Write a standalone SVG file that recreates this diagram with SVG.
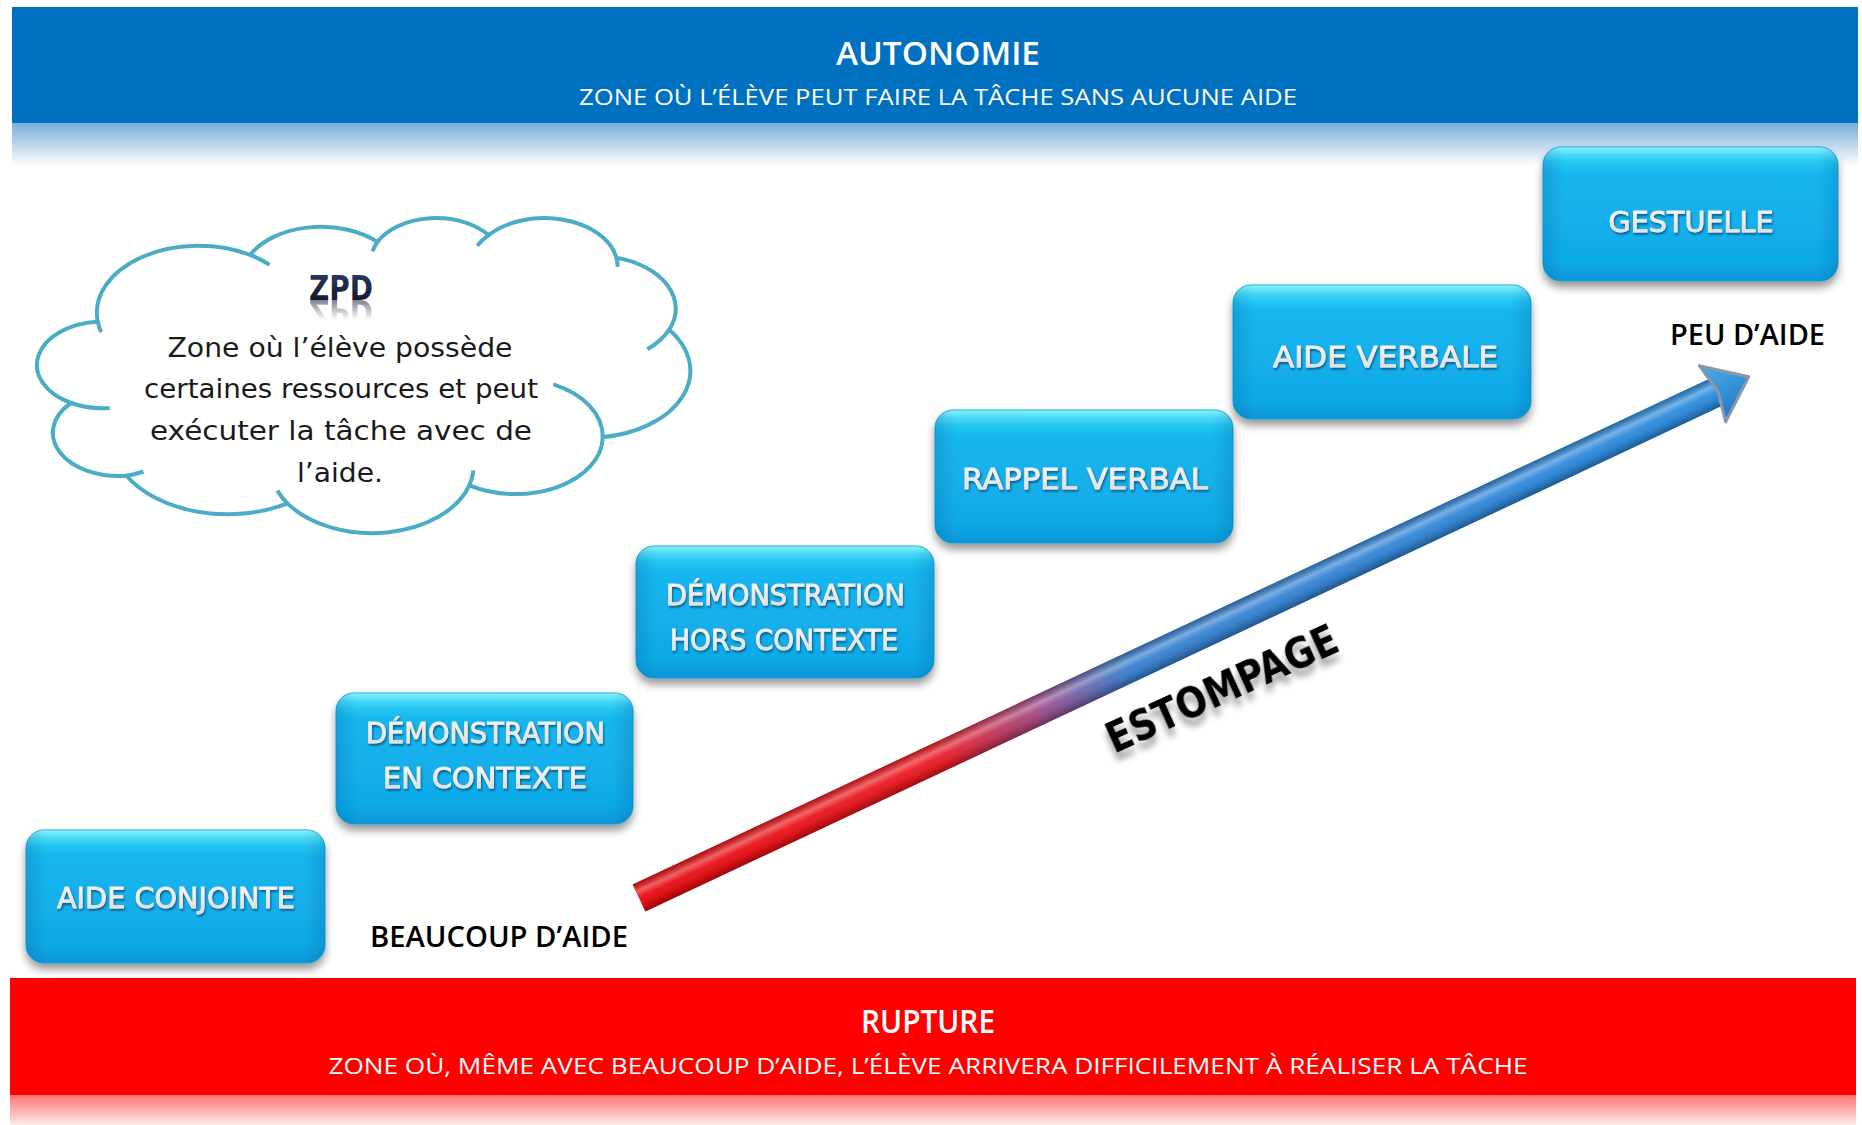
<svg xmlns="http://www.w3.org/2000/svg" xmlns:xlink="http://www.w3.org/1999/xlink" width="1862" height="1125" viewBox="0 0 1862 1125">
<defs>
<style>
.band-title{font-family:"Open Sans","Liberation Sans",sans-serif;font-weight:600;font-size:32px;fill:#ffffff;text-anchor:middle}
.band-sub{font-family:"Open Sans","Liberation Sans",sans-serif;font-size:22px;fill:#ffffff;text-anchor:middle}
.box-base{fill:url(#boxBase);stroke:#139ad6;stroke-width:1;filter:url(#boxShadow)}
.box-side{fill:url(#boxSide)}
.box-hl{fill:url(#boxHl)}
.box-label{font-family:"DejaVu Sans","Liberation Sans",sans-serif;font-size:29px;fill:url(#txtGrad);stroke:#eeeeee;stroke-width:0.8;text-anchor:middle;filter:url(#txtShadow)}
.box-label2{font-size:28px}
.cloud-shape{fill:#ffffff;stroke:#4bacc6;stroke-width:4}
.cloud-inner{fill:none;stroke:#4bacc6;stroke-width:4}
.cloud-text{font-family:"DejaVu Sans","Liberation Sans",sans-serif;font-size:26px;fill:#1a1a1a;text-anchor:middle}
.zpd{font-family:"DejaVu Sans","Liberation Sans",sans-serif;font-weight:bold;font-size:33px;fill:url(#zpdGrad);text-anchor:middle}
.side-label{font-family:"Open Sans","Liberation Sans",sans-serif;font-weight:600;font-size:28px;fill:#000000}
.estompage{font-family:"DejaVu Sans","Liberation Sans",sans-serif;font-weight:bold;font-size:42px;fill:#000000;text-anchor:middle;filter:url(#estShadow)}
</style>
<linearGradient id="topRefl" x1="0" y1="0" x2="0" y2="1">
<stop offset="0" stop-color="#76acd9"/>
<stop offset="1" stop-color="#ffffff"/>
</linearGradient>
<linearGradient id="botRefl" x1="0" y1="0" x2="0" y2="1">
<stop offset="0" stop-color="#ff7070"/>
<stop offset="1" stop-color="#ffeaea"/>
</linearGradient>
<linearGradient id="boxBase" x1="0" y1="0" x2="0" y2="1">
<stop offset="0" stop-color="#5cf2fb"/>
<stop offset="0.06" stop-color="#2fd2f5"/>
<stop offset="0.2" stop-color="#16b6ef"/>
<stop offset="0.85" stop-color="#10aae8"/>
<stop offset="1" stop-color="#0c96d6"/>
</linearGradient>
<linearGradient id="boxSide" x1="0" y1="0" x2="1" y2="0">
<stop offset="0" stop-color="#00558f" stop-opacity="0.22"/>
<stop offset="0.07" stop-color="#00558f" stop-opacity="0"/>
<stop offset="0.93" stop-color="#00558f" stop-opacity="0"/>
<stop offset="1" stop-color="#00558f" stop-opacity="0.22"/>
</linearGradient>
<linearGradient id="boxHl" x1="0" y1="0" x2="0" y2="1">
<stop offset="0" stop-color="#ffffff" stop-opacity="0.25"/>
<stop offset="0.12" stop-color="#ffffff" stop-opacity="0"/>
<stop offset="1" stop-color="#ffffff" stop-opacity="0"/>
</linearGradient>
<linearGradient id="txtGrad" x1="0" y1="0" x2="0" y2="1">
<stop offset="0" stop-color="#ffffff"/>
<stop offset="1" stop-color="#d4d4d4"/>
</linearGradient>
<linearGradient id="zpdGrad" x1="0" y1="0" x2="0" y2="1">
<stop offset="0" stop-color="#2b3d66"/>
<stop offset="1" stop-color="#0d1226"/>
</linearGradient>
<linearGradient id="zpdFade" gradientUnits="userSpaceOnUse" x1="0" y1="300" x2="0" y2="320">
<stop offset="0" stop-color="#ffffff" stop-opacity="0.55"/>
<stop offset="1" stop-color="#ffffff" stop-opacity="0"/>
</linearGradient>
<mask id="zpdMask" maskUnits="userSpaceOnUse" x="280" y="296" width="120" height="30">
<rect x="280" y="296" width="120" height="30" fill="url(#zpdFade)"/>
</mask>
<linearGradient id="shaftGrad" gradientUnits="userSpaceOnUse" x1="0" y1="0" x2="1226" y2="0">
<stop offset="0" stop-color="#e80c10"/>
<stop offset="0.27" stop-color="#ec1c24"/>
<stop offset="0.36" stop-color="#a04c86"/>
<stop offset="0.44" stop-color="#3a80d0"/>
<stop offset="1" stop-color="#2a8ee0"/>
</linearGradient>
<linearGradient id="tubeGrad" x1="0" y1="0" x2="0" y2="1">
<stop offset="0" stop-color="#000000" stop-opacity="0.25"/>
<stop offset="0.28" stop-color="#ffffff" stop-opacity="0.35"/>
<stop offset="0.5" stop-color="#ffffff" stop-opacity="0.05"/>
<stop offset="0.8" stop-color="#000000" stop-opacity="0.12"/>
<stop offset="1" stop-color="#000000" stop-opacity="0.35"/>
</linearGradient>
<linearGradient id="headGrad" x1="0" y1="0" x2="0" y2="1">
<stop offset="0" stop-color="#4aaeea"/>
<stop offset="1" stop-color="#1f78c8"/>
</linearGradient>
<filter id="boxShadow" x="-10%" y="-10%" width="120%" height="130%">
<feDropShadow dx="0" dy="6" stdDeviation="4" flood-color="#000000" flood-opacity="0.4"/>
</filter>
<filter id="txtShadow" x="-5%" y="-20%" width="110%" height="150%">
<feDropShadow dx="1" dy="2" stdDeviation="1" flood-color="#03426a" flood-opacity="0.75"/>
</filter>
<filter id="estShadow" x="-10%" y="-30%" width="120%" height="180%">
<feDropShadow dx="-3" dy="8" stdDeviation="3" flood-color="#000000" flood-opacity="0.35"/>
</filter>
</defs>

<rect width="1862" height="1125" fill="#ffffff"/>

<g id="band-autonomie">
<rect x="12" y="122" width="1846" height="44" fill="url(#topRefl)"/>
<rect x="12" y="7" width="1846" height="116" fill="#0070c0"/>
<text class="band-title" x="938" y="65" textLength="204" lengthAdjust="spacingAndGlyphs">AUTONOMIE</text>
<text class="band-sub" x="938" y="105" textLength="718" lengthAdjust="spacingAndGlyphs">ZONE OÙ L’ÉLÈVE PEUT FAIRE LA TÂCHE SANS AUCUNE AIDE</text>
</g>

<g id="band-rupture">
<rect x="10" y="1094" width="1846" height="31" fill="url(#botRefl)"/>
<rect x="10" y="978" width="1846" height="117" fill="#ff0000"/>
<text class="band-title" x="928" y="1033" textLength="134" lengthAdjust="spacingAndGlyphs">RUPTURE</text>
<text class="band-sub" x="928" y="1074" textLength="1199" lengthAdjust="spacingAndGlyphs">ZONE OÙ, MÊME AVEC BEAUCOUP D’AIDE, L’ÉLÈVE ARRIVERA DIFFICILEMENT À RÉALISER LA TÂCHE</text>
</g>

<g id="cloud-zpd">
<path class="cloud-shape" d="M97.8 321.8 A101.8 67 0 0 1 250 254.9 A80.4 53 0 0 1 377.4 242 A65.8 43.3 0 0 1 488.6 235.1 A73.2 48.1 0 0 1 616.4 257.6 A80.4 53 0 0 1 669.2 329.7 A102.1 67.2 0 0 1 602.7 437.2 A87.2 57.4 0 0 1 469.3 485.4 A101.7 67.2 0 0 1 287.4 503.3 A116.3 76.9 0 0 1 126.5 475.7 A65.7 43.2 0 0 1 71 403 A65.5 43.3 0 0 1 97.8 321.8 Z"/>
<path class="cloud-inner" d="M101.2 332.1 A101.8 67 0 0 1 97.8 321.8 M109.7 407.9 A65.5 43.3 0 0 1 71 403 M143.4 471.5 A65.7 43.2 0 0 1 126.5 475.7 M287.4 503.3 A101.7 67.2 0 0 1 277.3 490.6 M473.4 470.4 A101.7 67.2 0 0 1 469.3 485.4 M553.3 384.4 A87.2 57.4 0 0 1 602.7 437.2 M669.2 329.7 A80.4 53 0 0 1 647.3 349.2 M616.4 257.6 A73.2 48.1 0 0 1 617.6 266.9 M477.2 245.8 A73.2 48.1 0 0 1 488.6 235.1 M372.6 251.4 A65.8 43.3 0 0 1 377.4 242 M250 254.9 A101.8 67 0 0 1 269.6 264.8"/>
<text id="zpd-title" class="zpd" x="341" y="300" textLength="64" lengthAdjust="spacingAndGlyphs">ZPD</text>
<g mask="url(#zpdMask)">
<use href="#zpd-title" xlink:href="#zpd-title" transform="translate(0,600) scale(1,-1)"/>
</g>
<text class="cloud-text" x="340" y="357" textLength="345" lengthAdjust="spacingAndGlyphs">Zone où l’élève possède</text>
<text class="cloud-text" x="341" y="398" textLength="394" lengthAdjust="spacingAndGlyphs">certaines ressources et peut</text>
<text class="cloud-text" x="341" y="440" textLength="382" lengthAdjust="spacingAndGlyphs">exécuter la tâche avec de</text>
<text class="cloud-text" x="340" y="482" textLength="86" lengthAdjust="spacingAndGlyphs">l’aide.</text>
</g>

<g id="connectors">
<g id="arrow-estompage" transform="translate(639,898) rotate(-25.16)">
<rect x="0" y="-15" width="1196" height="30" fill="url(#shaftGrad)"/>
<rect x="0" y="-15" width="1196" height="30" fill="url(#tubeGrad)"/>
<polygon points="1186,-31 1226,0 1186,31 1192,0" fill="url(#headGrad)" stroke="#8a98a8" stroke-width="3" stroke-linejoin="round"/>
</g>
</g>

<text class="estompage" transform="translate(1228,702) rotate(-24.5)" x="0" y="0" textLength="250" lengthAdjust="spacingAndGlyphs">ESTOMPAGE</text>

<text class="side-label" x="370" y="947" textLength="258" lengthAdjust="spacingAndGlyphs">BEAUCOUP D’AIDE</text>
<text class="side-label" x="1670" y="345" textLength="155" lengthAdjust="spacingAndGlyphs">PEU D’AIDE</text>

<g id="node-aide-conjointe">
<rect class="box-base" x="26" y="830" width="299" height="133" rx="18"/>
<rect class="box-side" x="26" y="830" width="299" height="133" rx="18"/>
<rect class="box-hl" x="26" y="830" width="299" height="133" rx="18"/>
<text class="box-label" x="176" y="908" textLength="238" lengthAdjust="spacingAndGlyphs">AIDE CONJOINTE</text>
</g>

<g id="node-demonstration-en-contexte">
<rect class="box-base" x="336" y="693" width="297" height="131" rx="18"/>
<rect class="box-side" x="336" y="693" width="297" height="131" rx="18"/>
<rect class="box-hl" x="336" y="693" width="297" height="131" rx="18"/>
<text class="box-label box-label2" x="485.5" y="743" textLength="239" lengthAdjust="spacingAndGlyphs">DÉMONSTRATION</text>
<text class="box-label box-label2" x="485" y="788" textLength="204" lengthAdjust="spacingAndGlyphs">EN CONTEXTE</text>
</g>

<g id="node-demonstration-hors-contexte">
<rect class="box-base" x="636" y="546" width="298" height="132" rx="18"/>
<rect class="box-side" x="636" y="546" width="298" height="132" rx="18"/>
<rect class="box-hl" x="636" y="546" width="298" height="132" rx="18"/>
<text class="box-label box-label2" x="785.5" y="605" textLength="239" lengthAdjust="spacingAndGlyphs">DÉMONSTRATION</text>
<text class="box-label box-label2" x="784" y="650" textLength="228" lengthAdjust="spacingAndGlyphs">HORS CONTEXTE</text>
</g>

<g id="node-rappel-verbal">
<rect class="box-base" x="935" y="410" width="298" height="133" rx="18"/>
<rect class="box-side" x="935" y="410" width="298" height="133" rx="18"/>
<rect class="box-hl" x="935" y="410" width="298" height="133" rx="18"/>
<text class="box-label" x="1085" y="489" textLength="246" lengthAdjust="spacingAndGlyphs">RAPPEL VERBAL</text>
</g>

<g id="node-aide-verbale">
<rect class="box-base" x="1233" y="285" width="298" height="134" rx="18"/>
<rect class="box-side" x="1233" y="285" width="298" height="134" rx="18"/>
<rect class="box-hl" x="1233" y="285" width="298" height="134" rx="18"/>
<text class="box-label" x="1385.5" y="367" textLength="225" lengthAdjust="spacingAndGlyphs">AIDE VERBALE</text>
</g>

<g id="node-gestuelle">
<rect class="box-base" x="1543" y="147" width="295" height="134" rx="18"/>
<rect class="box-side" x="1543" y="147" width="295" height="134" rx="18"/>
<rect class="box-hl" x="1543" y="147" width="295" height="134" rx="18"/>
<text class="box-label" x="1691" y="232" textLength="165" lengthAdjust="spacingAndGlyphs">GESTUELLE</text>
</g>
</svg>
